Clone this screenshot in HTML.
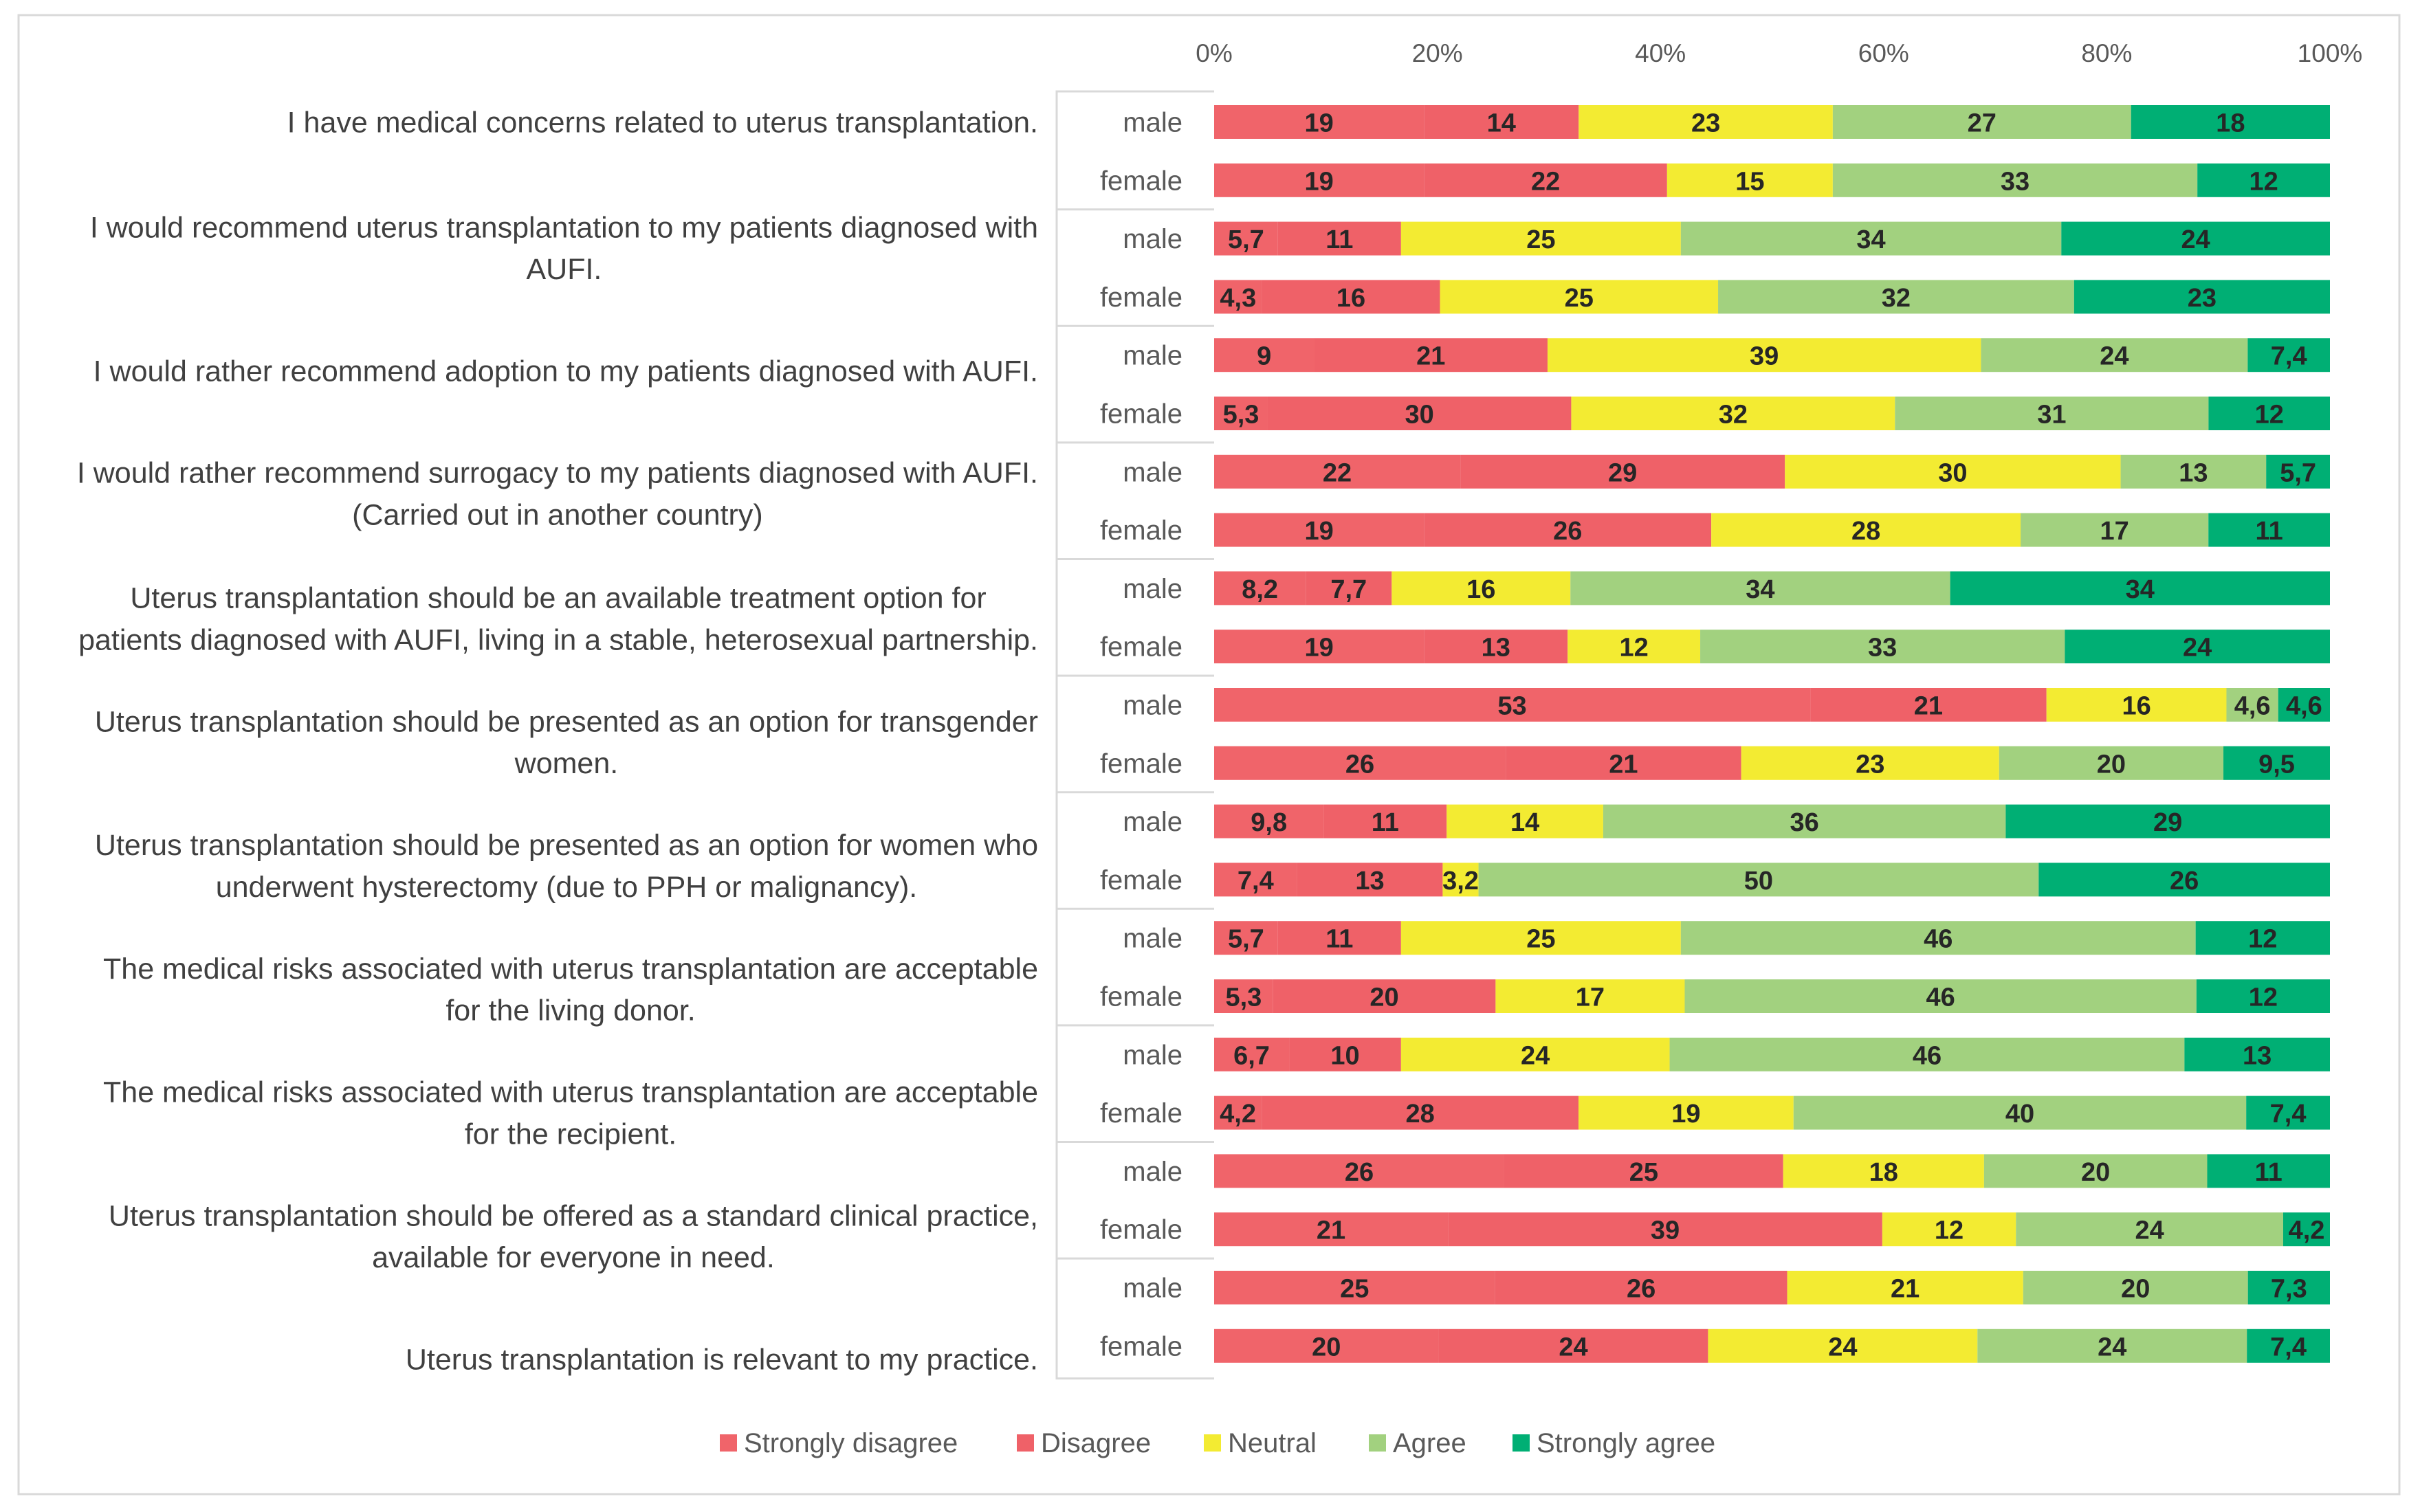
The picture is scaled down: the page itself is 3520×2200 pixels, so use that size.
<!DOCTYPE html>
<html><head><meta charset="utf-8"><style>
html,body{margin:0;padding:0;background:#fff}
svg{display:block;font-family:"Liberation Sans",sans-serif}
</style></head><body>
<svg id="chart" width="3520" height="2200" viewBox="0 0 3520 2200" xmlns="http://www.w3.org/2000/svg">
<rect x="27" y="22" width="3463" height="2152" fill="#fff" stroke="#d9d9d9" stroke-width="3"/>
<g id="grid"></g><g id="bars"></g><g id="labels"></g><g id="legend"></g>
</svg>
<script>
const questions = [
 ["I have medical concerns related to uterus transplantation."],
 ["I would recommend uterus transplantation to my patients diagnosed with","AUFI."],
 ["I would rather recommend adoption to my patients diagnosed with AUFI."],
 ["I would rather recommend surrogacy to my patients diagnosed with AUFI.","(Carried out in another country)"],
 ["Uterus transplantation should be an available treatment option for","patients diagnosed with AUFI, living in a stable, heterosexual partnership."],
 ["Uterus transplantation should be presented as an option for transgender","women."],
 ["Uterus transplantation should be presented as an option for women who","underwent hysterectomy (due to PPH or malignancy)."],
 ["The medical risks associated with uterus transplantation are acceptable","for the living donor."],
 ["The medical risks associated with uterus transplantation are acceptable","for the recipient."],
 ["Uterus transplantation should be offered as a standard clinical practice,","available for everyone in need."],
 ["Uterus transplantation is relevant to my practice."]
];
const groups = ["male","female"];
const seriesNames = ["Strongly disagree","Disagree","Neutral","Agree","Strongly agree"];
const maleValues = [
 [19,14,23,27,18],[5.7,11,25,34,24],[9,21,39,24,7.4],[22,29,30,13,5.7],[8.2,7.7,16,34,34],
 [53,21,16,4.6,4.6],[9.8,11,14,36,29],[5.7,11,25,46,12],[6.7,10,24,46,13],[26,25,18,20,11],[25,26,21,20,7.3]];
const femaleValues = [
 [19,22,15,33,12],[4.3,16,25,32,23],[5.3,30,32,31,12],[19,26,28,17,11],[19,13,12,33,24],
 [26,21,23,20,9.5],[7.4,13,3.2,50,26],[5.3,20,17,46,12],[4.2,28,19,40,7.4],[21,39,12,24,4.2],[20,24,24,24,7.4]];
const tickValues = [0,20,40,60,80,100];
const tickLabels = ["0%","20%","40%","60%","80%","100%"];

const colors = ["#F0646A","#EF6168","#F3EB32","#A2D17F","#00AF74"];
const NS="http://www.w3.org/2000/svg";
const X0=1766, X1=3389, ROW0=177.5, PITCH=84.8, BH=49;
const xScale=p=>X0+(X1-X0)*p/100;
const yRow=i=>ROW0+PITCH*i;
function mk(tag,attrs,parent){const e=document.createElementNS(NS,tag);for(const k in attrs)e.setAttribute(k,attrs[k]);parent.appendChild(e);return e;}
const grid=document.getElementById('grid'),bars=document.getElementById('bars'),labels=document.getElementById('labels'),legend=document.getElementById('legend');

tickValues.forEach((v,i)=>{
 const t=mk('text',{x:xScale(v),y:90,'text-anchor':'middle','font-size':37,fill:'#595959'},grid);
 
 
 t.textContent=tickLabels[i];
});
const box=mk('path',{d:`M${X0} 133 H1537 V${yRow(21)+PITCH/2+5} H${X0}`,fill:'none',stroke:'#d9d9d9','stroke-width':3},grid);


for(let g=1;g<questions.length;g++){
 const y=yRow(2*g)-PITCH/2;
 const l=mk('line',{x1:1537,x2:X0,y1:y,y2:y,stroke:'#d9d9d9','stroke-width':3},grid);
 
 
}
const qy=[[79],[147,174],[240],[306,333],[387,414],[467,494],[547,574],[627,654],[707,734],[787,814],[880]];
questions.forEach((q,gi)=>{
 const tg=mk('text',{'font-size':43,fill:'#404040','text-anchor':'middle'},labels);
 
 
 q.forEach((line,li)=>{
  const s=mk('tspan',{x:0,y:qy[gi][li]*2.247+15},tg); s.textContent=line;
 });
 const w=tg.getBBox().width;
 tg.querySelectorAll('tspan').forEach(s=>s.setAttribute('x',1510-w/2));
 [maleValues[gi],femaleValues[gi]].forEach((vals,k)=>{
  const row=2*gi+k, yc=yRow(row);
  const gl=mk('text',{x:1720,y:yc+14,'text-anchor':'end','font-size':40,fill:'#595959'},labels);
  
  
  gl.textContent=groups[k];
  const sum=vals.reduce((a,b)=>a+b,0);
  let cum=0;
  vals.forEach((v,si)=>{
   const xa=xScale(cum/sum*100), xb=xScale((cum+v)/sum*100); cum+=v;
   const r=mk('rect',{x:xa,y:yc-BH/2,width:xb-xa,height:BH,fill:colors[si]},bars);
   
   
   const t=mk('text',{x:(xa+xb)/2,y:yc+14,'text-anchor':'middle','font-size':38,'font-weight':'bold',fill:'#262626'},bars);
   
   
   t.textContent=String(v).replace('.',',');
  });
 });
});
const legX=[1047,1479,1751,1991,2200];
seriesNames.forEach((n,i)=>{
 const g=mk('g',{},legend);
 
 
 mk('rect',{x:legX[i],y:2087,width:25,height:25,fill:colors[i]},g);
 const t=mk('text',{x:legX[i]+35,y:2113,'font-size':40,fill:'#595959'},g);
 t.textContent=n;
});
</script>
</body></html>
